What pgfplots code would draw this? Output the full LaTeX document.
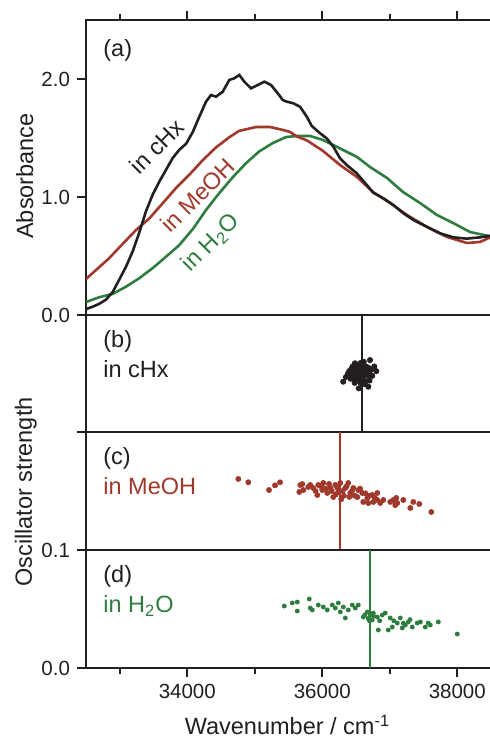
\documentclass[border=0pt]{standalone}
\usepackage{fontspec}
\setmainfont{Liberation Sans}
\usepackage{pgfplots}
\pgfplotsset{compat=1.18}
\definecolor{cblk}{HTML}{231F20}
\definecolor{cred}{HTML}{A0392B}
\definecolor{cgrn}{HTML}{2E7D3F}
\newcommand{\lblfont}{\fontsize{11.75}{14}\selectfont}
\begin{document}
\begin{tikzpicture}
\pgfplotsset{
  base/.style={scale only axis, width=205.9pt, xmin=32500, xmax=38600,
    anchor=south west, scaled ticks=false,
    axis line style={cblk, line width=1.2pt},
    tick style={cblk, line width=1pt},
    tick align=outside, major tick length=4.5pt, minor tick length=3pt,
    ticklabel style={font=\fontsize{10.25}{12}\selectfont, text=cblk},
    /pgf/number format/assume math mode=true,
    /pgf/number format/set thousands separator={}},
}
% (a)
\begin{axis}[base, at={(43pt,213.5pt)}, height=147.5pt, ymin=0, ymax=2.5,
  xtick={34000,36000,38000}, minor xtick={33000,35000,37000}, xticklabels={}, xtick pos=top,
  ytick={0,1,2}, yticklabels={0.0,1.0,2.0}, ytick pos=left]
\addplot[cgrn, line width=1.3pt] coordinates {
(32500,0.110) (32693,0.150) (32900,0.180) (33093,0.240) (33285,0.310) (33493,0.400)
(33685,0.494) (33878,0.590) (34085,0.730) (34278,0.890) (34470,1.030) (34678,1.170)
(34870,1.286) (35063,1.385) (35270,1.458) (35463,1.508) (35626,1.517) (35819,1.517)
(36011,1.483) (36219,1.424) (36515,1.339) (36707,1.254) (36959,1.161) (37196,1.042)
(37448,0.949) (37700,0.847) (37937,0.780) (38189,0.703) (38470,0.669) (38600,0.660)};
\addplot[cred, line width=1.3pt] coordinates {
(32500,0.305) (32648,0.381) (32841,0.480) (33048,0.605) (33241,0.720) (33433,0.815)
(33641,0.950) (33833,1.076) (34026,1.186) (34233,1.314) (34426,1.420) (34619,1.505)
(34767,1.560) (35019,1.593) (35226,1.593) (35419,1.568) (35522,1.551) (35626,1.512)
(35774,1.479) (36011,1.390) (36263,1.271) (36515,1.169) (36752,1.042) (37004,0.949)
(37256,0.847) (37552,0.746) (37848,0.661) (38145,0.610) (38337,0.619) (38470,0.653) (38600,0.680)};
\addplot[cblk, line width=1.3pt] coordinates {
(32500,0.050) (32599,0.070) (32697,0.095) (32796,0.130) (32896,0.195) (32993,0.300)
(33093,0.410) (33192,0.540) (33290,0.700) (33389,0.880) (33488,1.020) (33586,1.130)
(33685,1.230) (33784,1.330) (33882,1.400) (33982,1.450) (34081,1.550) (34179,1.681)
(34278,1.808) (34352,1.864) (34426,1.850) (34525,1.892) (34623,1.992) (34697,2.006)
(34771,2.034) (34845,1.977) (34944,1.921) (35044,1.949) (35142,1.977) (35241,1.949)
(35340,1.879) (35414,1.822) (35473,1.808) (35571,1.794) (35670,1.765) (35770,1.681)
(35844,1.602) (35967,1.540) (36066,1.497) (36164,1.426) (36263,1.328) (36362,1.271)
(36510,1.201) (36659,1.102) (36756,1.036) (36905,0.989) (37053,0.932) (37201,0.862)
(37349,0.805) (37547,0.748) (37745,0.692) (37942,0.658) (38140,0.647) (38337,0.658)
(38470,0.669) (38600,0.675)};
\end{axis}
% (b)
\begin{axis}[base, at={(43pt,155pt)}, height=58.5pt, ymin=0, ymax=0.1,
  xtick=\empty, ytick=\empty]
\addplot[only marks, mark=*, mark size=1.3pt, cblk] coordinates {
(36310,0.0430) (36350,0.0470) (36380,0.0500) (36400,0.0520) (36420,0.0455) (36430,0.0540)
(36440,0.0490) (36450,0.0560) (36460,0.0510) (36470,0.0460) (36480,0.0580) (36485,0.0587)
(36490,0.0530) (36500,0.0490) (36510,0.0440) (36520,0.0550) (36530,0.0510) (36540,0.0470)
(36545,0.0570) (36550,0.0530) (36560,0.0490) (36565,0.0420) (36570,0.0590) (36580,0.0550)
(36590,0.0510) (36600,0.0460) (36610,0.0570) (36615,0.0600) (36620,0.0530) (36630,0.0490)
(36640,0.0430) (36645,0.0560) (36660,0.0520) (36670,0.0480) (36680,0.0550) (36690,0.0500)
(36700,0.0440) (36707,0.0615) (36720,0.0530) (36740,0.0480) (36770,0.0560) (36800,0.0520)
(36540,0.0373) (36682,0.0387) (36480,0.0420) (36560,0.0450) (36470,0.0520) (36620,0.0410)};
\addplot[cblk, line width=0.9pt] coordinates {(36593,0) (36593,0.1)};
\end{axis}
% (c)
\begin{axis}[base, at={(43pt,96pt)}, height=59pt, ymin=0, ymax=0.1,
  xtick=\empty, ytick={0.1}, yticklabels={}, ytick pos=left]
\addplot[only marks, mark=*, mark size=1.25pt, cred] coordinates {
(34756,0.0602) (34904,0.0574) (35211,0.0508) (35300,0.0548) (35374,0.0574)
(35659,0.0492) (35704,0.0559) (35822,0.0551)
(35674,0.0551) (35719,0.0508) (35793,0.0534) (35867,0.0525) (35941,0.0551) (35926,0.0466)
(36000,0.0508) (36015,0.0568) (36074,0.0483) (36119,0.0525) (36163,0.0449) (36193,0.0551)
(36237,0.0492) (36267,0.0568) (36341,0.0525) (36385,0.0568) (36415,0.0483) (36459,0.0525)
(36519,0.0449) (36533,0.0508) (36593,0.0483) (36607,0.0407) (36667,0.0441) (36681,0.0398)
(36741,0.0466) (36756,0.0407) (36815,0.0424) (36815,0.0483) (36859,0.0398) (36904,0.0424)
(37007,0.0407) (37096,0.0441) (37111,0.0398)
(35900,0.0500) (35980,0.0540) (36050,0.0520) (36100,0.0560) (36140,0.0500) (36200,0.0470)
(36220,0.0530) (36300,0.0500) (36320,0.0460) (36360,0.0540) (36440,0.0500) (36480,0.0460)
(36560,0.0520) (36640,0.0480) (36700,0.0460) (36780,0.0440) (36280,0.0430) (36400,0.0450)
(37052,0.0424) (37200,0.0424) (37081,0.0380) (37304,0.0356) (37348,0.0407) (37437,0.0390)
(37615,0.0322)};
\addplot[cred, line width=0.9pt] coordinates {(36268,0) (36268,0.1)};
\end{axis}
% (d)
\begin{axis}[base, at={(43pt,37pt)}, height=59pt, ymin=0, ymax=0.1,
  xtick={34000,36000,38000}, minor xtick={33000,35000,37000}, xtick pos=bottom,
  ytick={0,0.1}, yticklabels={0.0,0.1}, ytick pos=left]
\addplot[only marks, mark=*, mark size=1pt, cgrn] coordinates {
(35437,0.0525) (35556,0.0551) (35630,0.0559) (35630,0.0483) (35807,0.0585) (35822,0.0508)
(35852,0.0492) (35941,0.0534)
(36015,0.0517) (36074,0.0492) (36148,0.0534) (36193,0.0508) (36237,0.0551) (36267,0.0475)
(36311,0.0517) (36341,0.0424) (36385,0.0492) (36444,0.0534) (36489,0.0508) (36533,0.0534)
(36607,0.0432) (36667,0.0475) (36711,0.0449) (36741,0.0407) (36756,0.0466) (36815,0.0432)
(36830,0.0322) (36889,0.0449) (36933,0.0466) (36978,0.0322) (37007,0.0424) (37037,0.0347)
(37111,0.0381) (37156,0.0424) (37185,0.0339) (37230,0.0364) (37274,0.0390) (37333,0.0347)
(37407,0.0381) (37452,0.0390) (37526,0.0347) (37570,0.0381)
(36630,0.0450) (36680,0.0420) (36760,0.0440) (36850,0.0400) (36700,0.0400) (37060,0.0400)
(37200,0.0380) (37300,0.0410) (37600,0.0364) (37719,0.0390) (38000,0.0288)};
\addplot[cgrn, line width=0.9pt] coordinates {(36712,0) (36712,0.1)};
\end{axis}
% texts
\node[anchor=base west, inner sep=0pt, font=\lblfont, text=cblk] at (51.5pt,342.5pt) {(a)};
\node[anchor=base west, inner sep=0pt, font=\lblfont, text=cblk] at (51.5pt,197pt) {(b)};
\node[anchor=base west, inner sep=0pt, font=\lblfont, text=cblk] at (51.5pt,182pt) {in cHx};
\node[anchor=base west, inner sep=0pt, font=\lblfont, text=cblk] at (51.5pt,138.5pt) {(c)};
\node[anchor=base west, inner sep=0pt, font=\lblfont, text=cred] at (51.5pt,123.5pt) {in MeOH};
\node[anchor=base west, inner sep=0pt, font=\lblfont, text=cblk] at (51.5pt,79.5pt) {(d)};
\node[anchor=base west, inner sep=0pt, font=\lblfont, text=cgrn] at (51.5pt,64.5pt) {in H\textsubscript{2}O};
\node[rotate=45, inner sep=0pt, font=\lblfont, text=cblk] at (78.5pt,298pt) {in cHx};
\node[rotate=45, inner sep=0pt, font=\lblfont, text=cred] at (98.8pt,273.5pt) {in MeOH};
\node[rotate=45, inner sep=0pt, font=\lblfont, text=cgrn] at (105.5pt,249.5pt) {in H\textsubscript{2}O};
\node[rotate=90, anchor=base, inner sep=0pt, font=\lblfont, text=cblk] at (16.5pt,283pt) {Absorbance};
\node[rotate=90, anchor=base, inner sep=0pt, font=\lblfont, text=cblk] at (16pt,125pt) {Oscillator strength};
\node[anchor=base, inner sep=0pt, font=\lblfont, text=cblk] at (143.75pt,3.5pt) {Wavenumber / cm\textsuperscript{-1}};
\pgfresetboundingbox
\useasboundingbox (0,0) rectangle (244.5pt,371pt);
\end{tikzpicture}
\end{document}
